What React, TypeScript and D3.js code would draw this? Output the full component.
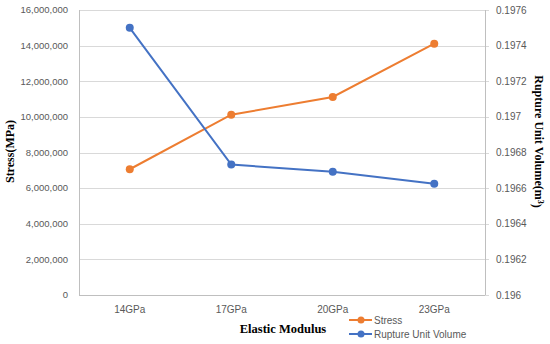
import { useEffect, useRef } from "react";
import * as d3 from "d3";

const categories = ["14GPa", "17GPa", "20GPa", "23GPa"];
const stress = [7060000, 10120000, 11120000, 14110000];
const ruptureVolume = [0.1975, 0.196732, 0.196692, 0.196625];
const leftTicks = [0, 2000000, 4000000, 6000000, 8000000, 10000000, 12000000, 14000000, 16000000];
const rightTicks = [0.196, 0.1962, 0.1964, 0.1966, 0.1968, 0.197, 0.1972, 0.1974, 0.1976];

export default function App() {
  const ref = useRef<SVGSVGElement>(null);

  useEffect(() => {
    if (!ref.current) return;
    const width = 550;
    const height = 344;
    const margin = { top: 10, right: 65, bottom: 49, left: 79 };
    const innerW = width - margin.left - margin.right;
    const innerH = height - margin.top - margin.bottom;

    const svgRoot = d3.select(ref.current);
    svgRoot.selectAll("*").remove();
    svgRoot.append("rect").attr("width", width).attr("height", height).attr("fill", "#fff");

    const svg = svgRoot.append("g").attr("transform", `translate(${margin.left},${margin.top})`);

    const x = d3.scaleBand().domain(categories).range([0, innerW]);
    const yL = d3.scaleLinear().domain([0, 16000000]).range([innerH, 0]);
    const yR = d3.scaleLinear().domain([0.196, 0.1976]).range([innerH, 0]);
    const cx = (c: string) => x(c)! + x.bandwidth() / 2;

    const tickFont = "'Liberation Sans', Arial, sans-serif";
    const titleFont = "'Liberation Serif', 'Times New Roman', serif";

    // gridlines
    svg.append("g")
      .selectAll("line")
      .data(leftTicks)
      .enter()
      .append("line")
      .attr("x1", 0)
      .attr("x2", innerW + 4)
      .attr("y1", (d) => Math.round(yL(d)) + 0.5)
      .attr("y2", (d) => Math.round(yL(d)) + 0.5)
      .attr("stroke", "#d9d9d9")
      .attr("stroke-width", 1);

    // axis lines
    svg.append("line").attr("x1", 0.5).attr("x2", 0.5).attr("y1", 0).attr("y2", innerH)
      .attr("stroke", "#bfbfbf");
    svg.append("line").attr("x1", innerW + 0.5).attr("x2", innerW + 0.5).attr("y1", 0).attr("y2", innerH)
      .attr("stroke", "#bfbfbf");
    svg.append("line").attr("x1", 0).attr("x2", innerW).attr("y1", innerH + 0.5).attr("y2", innerH + 0.5)
      .attr("stroke", "#bfbfbf");

    // left tick labels
    svg.append("g")
      .selectAll("text")
      .data(leftTicks)
      .enter()
      .append("text")
      .attr("x", -11)
      .attr("y", (d) => yL(d))
      .attr("dy", "0.35em")
      .attr("text-anchor", "end")
      .style("font-family", tickFont)
      .style("font-size", "9.5px")
      .attr("fill", "#595959")
      .text((d) => d3.format(",")(d));

    // right tick labels
    svg.append("g")
      .selectAll("text")
      .data(rightTicks)
      .enter()
      .append("text")
      .attr("x", innerW + 11)
      .attr("y", (d) => yR(d))
      .attr("dy", "0.35em")
      .attr("text-anchor", "start")
      .style("font-family", tickFont)
      .style("font-size", "10px")
      .attr("fill", "#595959")
      .text((d) => String(+d.toFixed(4)));

    // x tick labels
    svg.append("g")
      .selectAll("text")
      .data(categories)
      .enter()
      .append("text")
      .attr("x", (d) => cx(d))
      .attr("y", innerH + 14)
      .attr("dy", "0.35em")
      .attr("text-anchor", "middle")
      .style("font-family", tickFont)
      .style("font-size", "10px")
      .attr("fill", "#595959")
      .text((d) => d);

    // lines
    const series = [
      { values: stress, y: yL, color: "#ED7D31" },
      { values: ruptureVolume, y: yR, color: "#4472C4" },
    ];
    series.forEach((s) => {
      const line = d3.line<number>()
        .x((_, i) => cx(categories[i]))
        .y((d) => s.y(d));
      svg.append("path")
        .datum(s.values)
        .attr("d", line)
        .attr("fill", "none")
        .attr("stroke", s.color)
        .attr("stroke-width", 2);
      svg.append("g")
        .selectAll("circle")
        .data(s.values)
        .enter()
        .append("circle")
        .attr("cx", (_, i) => cx(categories[i]))
        .attr("cy", (d) => s.y(d))
        .attr("r", 4)
        .attr("fill", s.color);
    });

    // axis titles
    svgRoot.append("text")
      .attr("transform", `translate(10,${margin.top + innerH / 2 - 1}) rotate(-90)`)
      .attr("text-anchor", "middle")
      .attr("dy", "0.35em")
      .style("font-family", titleFont)
      .style("font-size", "12px")
      .style("font-weight", "bold")
      .text("Stress(MPa)");

    const rt = svgRoot.append("text")
      .attr("transform", `translate(539,${margin.top + innerH / 2 - 11}) rotate(90)`)
      .attr("text-anchor", "middle")
      .attr("dy", "0.35em")
      .style("font-family", titleFont)
      .style("font-size", "12px")
      .style("font-weight", "bold");
    rt.append("tspan").text("Rupture Unit Volume(m");
    rt.append("tspan").attr("dy", "-0.4em").style("font-size", "8px").text("3");
    rt.append("tspan").attr("dy", "0.4em").text(")");

    svgRoot.append("text")
      .attr("x", 283)
      .attr("y", 333)
      .attr("text-anchor", "middle")
      .style("font-family", titleFont)
      .style("font-size", "12.5px")
      .style("font-weight", "bold")
      .text("Elastic Modulus");

    // legend
    const legend = svgRoot.append("g");
    const legendItems = [
      { label: "Stress", color: "#ED7D31" },
      { label: "Rupture Unit Volume", color: "#4472C4" },
    ];
    legendItems.forEach((item, i) => {
      const ly = 320 + i * 14;
      legend.append("line").attr("x1", 349).attr("x2", 372).attr("y1", ly).attr("y2", ly)
        .attr("stroke", item.color).attr("stroke-width", 2);
      legend.append("circle").attr("cx", 361).attr("cy", ly).attr("r", 3.5).attr("fill", item.color);
      legend.append("text")
        .attr("x", 374)
        .attr("y", ly)
        .attr("dy", "0.35em")
        .style("font-family", tickFont)
        .style("font-size", "10px")
        .attr("fill", "#595959")
        .text(item.label);
    });
  }, []);

  return (
    <svg
      ref={ref}
      width={550}
      height={344}
      style={{ position: "absolute", left: 0, top: 0, display: "block" }}
    />
  );
}
